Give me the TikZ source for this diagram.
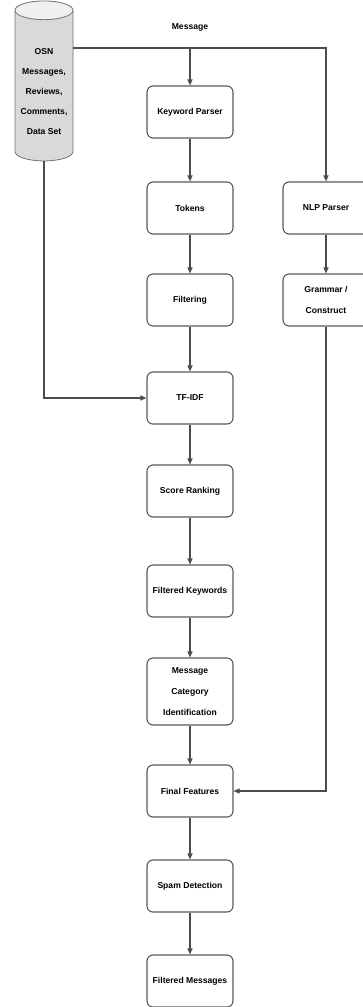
\documentclass[tikz,border=0pt]{standalone}
\usepackage{fontspec}
\setmainfont{Liberation Sans}
\usetikzlibrary{shapes.geometric,arrows.meta}
\begin{document}
\begin{tikzpicture}[x=1pt,y=-1pt,
  box/.style = {draw = black!65, line width = 1.1pt, rounded corners = 6pt, minimum width = 86pt, minimum height = 52pt, align = center, font = \fontsize{8.6}{21}\selectfont\bfseries},
  flow/.style = {draw = black!70, line width = 1.1pt, -{Triangle[length = 6pt, width = 5pt]}}]
\useasboundingbox (0,0) rectangle (362,1007);
\node[draw = black!55, line width = 0.8pt, cylinder, shape border rotate = 90, aspect = 0.35, minimum width = 58pt, minimum height = 160pt, cylinder uses custom fill, cylinder body fill = black!15, cylinder end fill = black!6, align = center, font = \fontsize{8.6}{20}\selectfont\bfseries] (db) at (44,88) {\\[-6pt]OSN\\Messages,\\Reviews,\\Comments,\\Data Set};
\node[font = \fontsize{8.6}{11}\selectfont\bfseries] (msglbl) at (190,27) {Message};
\coordinate (split) at (190,48);
\node[box] (kp) at (190,112) {Keyword Parser};
\node[box] (tok) at (190,208) {Tokens};
\node[box] (filt) at (190,300) {Filtering};
\node[box] (tfidf) at (190,398) {TF-IDF};
\node[box] (score) at (190,491) {Score Ranking};
\node[box] (fkw) at (190,591) {Filtered Keywords};
\node[box, minimum height = 67pt] (mci) at (190,691.5) {Message\\Category\\Identification};
\node[box] (ff) at (190,791) {Final Features};
\node[box] (spam) at (190,886) {Spam Detection};
\node[box] (fm) at (190,981) {Filtered Messages};
\node[box] (nlp) at (326,208) {NLP Parser};
\node[box] (gram) at (326,300) {Grammar /\\Construct};
\draw[flow] (db.east |- split) -- (split -| nlp) -- (nlp);
\draw[flow] (split) -- (kp);
\foreach \a/\b in {kp/tok, tok/filt, filt/tfidf, tfidf/score, score/fkw, fkw/mci, mci/ff, ff/spam, spam/fm, nlp/gram}
  \draw[flow] (\a) -- (\b);
\draw[flow] (db.south) |- (tfidf);
\draw[flow] (gram) |- (ff);
\end{tikzpicture}
\end{document}
